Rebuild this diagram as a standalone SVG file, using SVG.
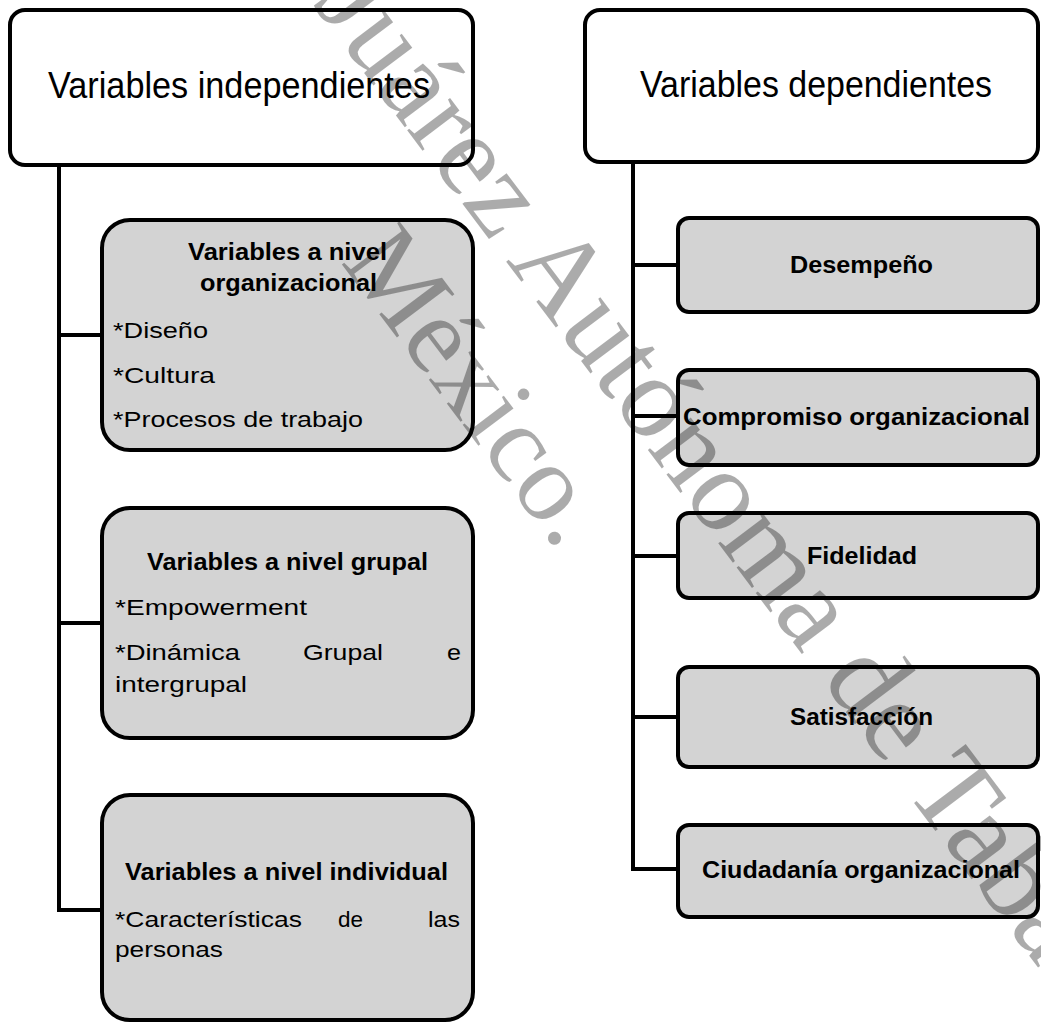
<svg xmlns="http://www.w3.org/2000/svg" width="1041" height="1023" viewBox="0 0 1041 1023">
<style>
.hdr{fill:#fff;stroke:#000;stroke-width:4}
.box{fill:#d3d3d3;stroke:#000;stroke-width:4}
.con{fill:none;stroke:#000;stroke-width:4}
text{font-family:"Liberation Sans",Arial,sans-serif;fill:#000}
.h{font-size:36px}
.b{font-size:23px;font-weight:bold}
.n{font-size:22px}
.wm{font-family:"Liberation Serif","Times New Roman",serif;fill:#000;fill-opacity:0.33}
</style>
<rect width="1041" height="1023" fill="#fff"/>
<g id="connectors">
<path class="con" d="M59,165 V910 H102 M59,335 H102 M59,623 H102"/>
<path class="con" d="M633,162 V869 H678 M633,265 H678 M633,416 H678 M633,556 H678 M633,717 H678"/>
</g>
<g id="n-indep">
<rect class="hdr" x="10" y="10" width="463" height="155" rx="15"/>
<text class="h" x="48" y="98" textLength="382" lengthAdjust="spacingAndGlyphs">Variables independientes</text>
</g>
<g id="n-dep">
<rect class="hdr" x="585" y="10" width="453" height="152" rx="15"/>
<text class="h" x="640" y="97" textLength="352" lengthAdjust="spacingAndGlyphs">Variables dependientes</text>
</g>
<g id="n-org">
<rect class="box" x="102" y="220" width="371" height="230" rx="28"/>
<text class="b" x="188" y="260" textLength="199" lengthAdjust="spacingAndGlyphs">Variables a nivel</text>
<text class="b" x="200" y="291" textLength="177" lengthAdjust="spacingAndGlyphs">organizacional</text>
<text class="n" x="113" y="338" textLength="95" lengthAdjust="spacingAndGlyphs">*Diseño</text>
<text class="n" x="113" y="383" textLength="102" lengthAdjust="spacingAndGlyphs">*Cultura</text>
<text class="n" x="113" y="427" textLength="250" lengthAdjust="spacingAndGlyphs">*Procesos de trabajo</text>
</g>
<g id="n-grup">
<rect class="box" x="102" y="508" width="371" height="230" rx="28"/>
<text class="b" x="147" y="570" textLength="281" lengthAdjust="spacingAndGlyphs">Variables a nivel grupal</text>
<text class="n" x="115" y="615" textLength="192" lengthAdjust="spacingAndGlyphs">*Empowerment</text>
<text class="n" x="115" y="660" textLength="125" lengthAdjust="spacingAndGlyphs">*Dinámica</text>
<text class="n" x="303" y="660" textLength="80" lengthAdjust="spacingAndGlyphs">Grupal</text>
<text class="n" x="447" y="660" textLength="14" lengthAdjust="spacingAndGlyphs">e</text>
<text class="n" x="115" y="692" textLength="132" lengthAdjust="spacingAndGlyphs">intergrupal</text>
</g>
<g id="n-indiv">
<rect class="box" x="102" y="795" width="371" height="225" rx="28"/>
<text class="b" x="125" y="880" textLength="323" lengthAdjust="spacingAndGlyphs">Variables a nivel individual</text>
<text class="n" x="115" y="927" textLength="187" lengthAdjust="spacingAndGlyphs">*Características</text>
<text class="n" x="338" y="927" textLength="25" lengthAdjust="spacingAndGlyphs">de</text>
<text class="n" x="428" y="927" textLength="32" lengthAdjust="spacingAndGlyphs">las</text>
<text class="n" x="115" y="957" textLength="108" lengthAdjust="spacingAndGlyphs">personas</text>
</g>
<g id="n-desem">
<rect class="box" x="678" y="218" width="360" height="94" rx="11"/>
<text class="b" x="790" y="273" textLength="143" lengthAdjust="spacingAndGlyphs">Desempeño</text>
</g>
<g id="n-comp">
<rect class="box" x="678" y="370" width="360" height="95" rx="11"/>
<text class="b" x="683" y="425" textLength="347" lengthAdjust="spacingAndGlyphs">Compromiso organizacional</text>
</g>
<g id="n-fid">
<rect class="box" x="678" y="513" width="360" height="85" rx="11"/>
<text class="b" x="807" y="564" textLength="110" lengthAdjust="spacingAndGlyphs">Fidelidad</text>
</g>
<g id="n-sat">
<rect class="box" x="678" y="667" width="360" height="100" rx="11"/>
<text class="b" x="790" y="725" textLength="143" lengthAdjust="spacingAndGlyphs">Satisfacción</text>
</g>
<g id="n-ciud">
<rect class="box" x="678" y="825" width="360" height="92" rx="11"/>
<text class="b" x="702" y="878" textLength="318" lengthAdjust="spacingAndGlyphs">Ciudadanía organizacional</text>
</g>
<g id="watermark">
<text class="wm" font-size="117" transform="translate(312,4) rotate(53)">Juárez Autónoma de Tabasco</text>
<text class="wm" font-size="110" transform="translate(340,262) rotate(53)">México.</text>
</g>
</svg>
